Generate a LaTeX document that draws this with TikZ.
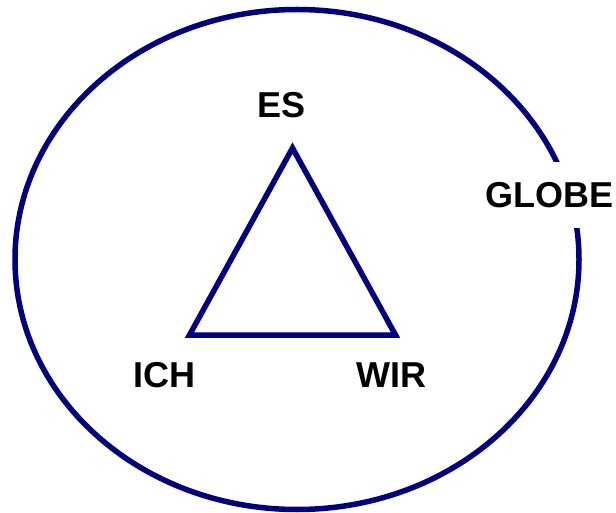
\documentclass[tikz,border=0pt]{standalone}
\usepackage{fontspec}
\setmainfont{Liberation Sans}
\usepackage{tikz}
\usetikzlibrary{positioning,calc,shapes.geometric}

\definecolor{globeblue}{RGB}{0,0,128}

\begin{document}
\begin{tikzpicture}[x=1pt, y=-1pt,
  font=\fontsize{36}{40}\selectfont\bfseries,
  ring/.style={draw=globeblue, line width=5.5pt},
  tri/.style={draw=globeblue, line width=5.5pt, line join=miter},
  label/.style={inner sep=0pt, text=black, anchor=center},
]
\useasboundingbox (0,0) rectangle (616,513);

% ============ GLOBE: outer ellipse ============
\node[ring, ellipse, minimum width=564pt, minimum height=500pt, inner sep=0pt] (globe) at (297,259.5) {};
\node[label, fill=white, inner ysep=20pt] (globelbl) at (549,195) {GLOBE};

% ============ TRIANGLE: ES / ICH / WIR ============
\coordinate (es)  at (292.5,148);
\coordinate (ich) at (189.5,335);
\coordinate (wir) at (395.5,335);
\draw[tri] (es) -- (wir) -- (ich) -- cycle;

\node[label] (eslbl)  at (281.5,105.5) {ES};
\node[label] (ichlbl) at (164,375.5) {ICH};
\node[label] (wirlbl) at (391.5,375.5) {WIR};

\end{tikzpicture}
\end{document}
